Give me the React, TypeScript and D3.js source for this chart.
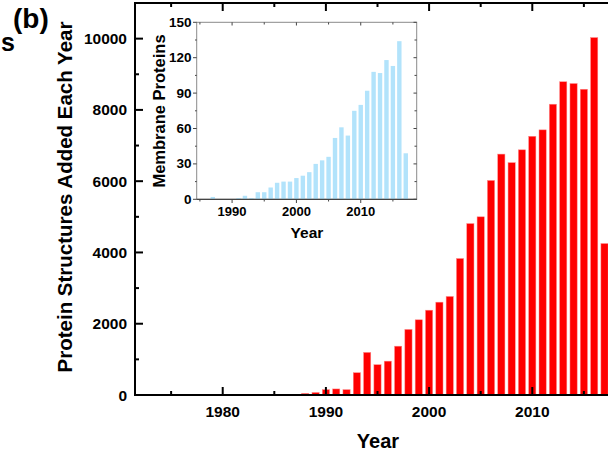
import React from "react";
import * as d3 from "d3";

const years: number[] = [1976,1977,1978,1979,1980,1981,1982,1983,1984,1985,1986,1987,1988,1989,1990,1991,1992,1993,1994,1995,1996,1997,1998,1999,2000,2001,2002,2003,2004,2005,2006,2007,2008,2009,2010,2011,2012,2013,2014,2015,2016,2017];
const structures: number[] = [10,20,5,5,5,5,15,15,15,5,5,10,45,70,150,170,150,625,1195,850,950,1370,1840,2110,2380,2605,2765,3830,4810,5000,6020,6760,6520,6880,7260,7440,8160,8790,8740,8580,10030,4250];

const memYears: number[] = [1987,1988,1989,1990,1991,1992,1993,1994,1995,1996,1997,1998,1999,2000,2001,2002,2003,2004,2005,2006,2007,2008,2009,2010,2011,2012,2013,2014,2015,2016,2017];
const membrane: number[] = [2,0,0,0,1,3,1,6,6,10,14,15,15,18,20,23,30,33,36,52,61,54,75,80,92,108,107,118,113,134,39];

const mainYTicks: number[] = [0,2000,4000,6000,8000,10000];
const mainXTicks: number[] = [1980,1990,2000,2010];
const insetYTicks: number[] = [0,30,60,90,120,150];
const insetXTicks: number[] = [1990,2000,2010];

const FONT = "'Liberation Sans', Arial, sans-serif";

export default function App() {
  const x = d3.scaleLinear().domain([1971.5, 2018.5]).range([135, 620]);
  const y = d3.scaleLinear().domain([0, 11000]).range([395, 3]);
  const xi = d3.scaleLinear().domain([1984.5, 2018.7]).range([196.7, 416.7]);
  const yi = d3.scaleLinear().domain([0, 150]).range([199.3, 22.3]);
  const bw = 7.2;
  const bwi = 4.4;

  const mainMinorX = d3.range(1975, 2020, 5).filter((v) => v % 10 !== 0);
  const mainMinorY = d3.range(1000, 11000, 2000);
  const insetMinorY = d3.range(15, 150, 30);
  const insetMinorX = d3.range(1985, 2019, 5).filter((v) => v % 10 !== 0);

  return (
    <svg width={608} height={451} style={{ position: "absolute", left: 0, top: 0, background: "#fff" }} fontFamily={FONT} fontWeight="bold">
      {/* main bars */}
      {years.map((yr, i) => (
        <rect key={yr} x={x(yr) - bw / 2} y={y(structures[i])} width={bw} height={y(0) - y(structures[i])} fill="#ff0000" stroke="#ff8a8a" strokeWidth={0.5} />
      ))}
      {/* main frame */}
      <line x1={135} x2={620} y1={395} y2={395} stroke="#000" strokeWidth={2} />
      <line x1={135} x2={620} y1={3} y2={3} stroke="#000" strokeWidth={2} />
      <line x1={135} x2={135} y1={2} y2={396} stroke="#000" strokeWidth={2} />
      {/* main x ticks */}
      {mainXTicks.map((t) => (
        <g key={t}>
          <line x1={x(t)} x2={x(t)} y1={395} y2={387} stroke="#000" strokeWidth={2} />
          <line x1={x(t)} x2={x(t)} y1={3} y2={11} stroke="#000" strokeWidth={2} />
          <text x={x(t)} y={417} textAnchor="middle" fontSize={15.5}>{t}</text>
        </g>
      ))}
      {mainMinorX.map((t) => (
        <g key={t}>
          <line x1={x(t)} x2={x(t)} y1={395} y2={391} stroke="#000" strokeWidth={2} />
          <line x1={x(t)} x2={x(t)} y1={3} y2={7} stroke="#000" strokeWidth={2} />
        </g>
      ))}
      {/* main y ticks */}
      {mainYTicks.map((t) => (
        <g key={t}>
          <line x1={135} x2={143} y1={y(t)} y2={y(t)} stroke="#000" strokeWidth={2} />
          <text x={127} y={y(t) + 5.5} textAnchor="end" fontSize={15.5}>{t}</text>
        </g>
      ))}
      {mainMinorY.map((t) => (
        <line key={t} x1={135} x2={139} y1={y(t)} y2={y(t)} stroke="#000" strokeWidth={2} />
      ))}
      <text x={378} y={448} textAnchor="middle" fontSize={20}>Year</text>
      <text transform={`translate(72,197) rotate(-90)`} textAnchor="middle" fontSize={20.5}>Protein Structures Added Each Year</text>
      <text x={13} y={28} fontSize={28}>(b)</text>
      <text x={1} y={51} fontSize={25}>s</text>

      {/* inset */}
      <rect x={196.7} y={22.3} width={220} height={177} fill="#fff" stroke="#8a8a8a" strokeWidth={1} />
      {memYears.map((yr, i) => (
        membrane[i] > 0 ? (
          <rect key={yr} x={xi(yr) - bwi / 2} y={yi(membrane[i])} width={bwi} height={yi(0) - yi(membrane[i])} fill="#b2e3fb" />
        ) : null
      ))}
      <line x1={196.7} x2={416.7} y1={199.3} y2={199.3} stroke="#444" strokeWidth={1.2} />
      {insetXTicks.map((t) => (
        <g key={t}>
          <line x1={xi(t)} x2={xi(t)} y1={199.3} y2={203} stroke="#444" strokeWidth={1} />
          <line x1={xi(t)} x2={xi(t)} y1={22.3} y2={25.5} stroke="#444" strokeWidth={1} />
          <text x={xi(t)} y={216} textAnchor="middle" fontSize={13}>{t}</text>
        </g>
      ))}
      {insetMinorX.map((t) => (
        <g key={t}>
          <line x1={xi(t)} x2={xi(t)} y1={199.3} y2={201.5} stroke="#444" strokeWidth={1} />
          <line x1={xi(t)} x2={xi(t)} y1={22.3} y2={24.5} stroke="#444" strokeWidth={1} />
        </g>
      ))}
      {insetYTicks.map((t) => (
        <g key={t}>
          <line x1={193} x2={196.7} y1={yi(t)} y2={yi(t)} stroke="#444" strokeWidth={1} />
          <line x1={413.5} x2={416.7} y1={yi(t)} y2={yi(t)} stroke="#444" strokeWidth={1} />
          <text x={191.5} y={yi(t) + 4.5} textAnchor="end" fontSize={13.5}>{t}</text>
        </g>
      ))}
      {insetMinorY.map((t) => (
        <g key={t}>
          <line x1={195} x2={196.7} y1={yi(t)} y2={yi(t)} stroke="#444" strokeWidth={1} />
          <line x1={414.5} x2={416.7} y1={yi(t)} y2={yi(t)} stroke="#444" strokeWidth={1} />
        </g>
      ))}
      <text x={307} y={238} textAnchor="middle" fontSize={15.5}>Year</text>
      <text transform={`translate(165,111) rotate(-90)`} textAnchor="middle" fontSize={16.5}>Membrane Proteins</text>
    </svg>
  );
}
